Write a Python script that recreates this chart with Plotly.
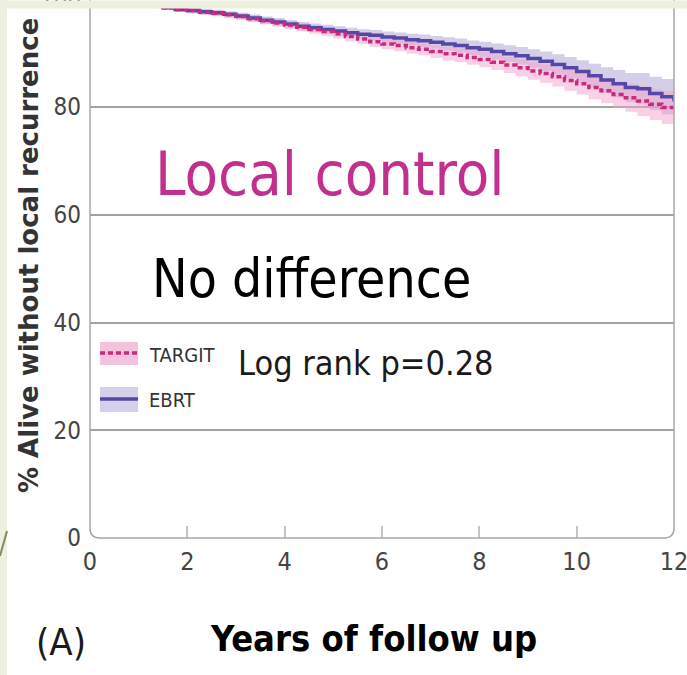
import plotly.graph_objects as go

# Kaplan-Meier estimates of local-recurrence-free survival (% alive without local recurrence)
years = [0, 0.25, 0.5, 0.75, 1, 1.25, 1.5, 1.75, 2, 2.25, 2.5, 2.75, 3, 3.25, 3.5, 3.75,
         4, 4.25, 4.5, 4.75, 5, 5.25, 5.5, 5.75, 6, 6.25, 6.5, 6.75, 7, 7.25, 7.5, 7.75,
         8, 8.25, 8.5, 8.75, 9, 9.25, 9.5, 9.75, 10, 10.25, 10.5, 10.75, 11, 11.25, 11.5, 11.75, 12]
ebrt = [100, 99.9, 99.7, 99.5, 99.2, 98.8, 98.4, 98.1, 97.9, 97.7, 97.5, 97.2, 96.9, 96.5, 96.1, 95.8,
        95.4, 95.0, 94.7, 94.4, 94.1, 93.8, 93.5, 93.3, 93.0, 92.8, 92.5, 92.3, 92.0, 91.7, 91.4, 91.0,
        90.7, 90.3, 89.9, 89.5, 89.0, 88.5, 87.9, 87.3, 86.6, 85.8, 85.0, 84.3, 83.6, 83.4, 82.5, 81.9, 81.0]
targit = [100, 99.9, 99.7, 99.4, 99.1, 98.7, 98.4, 98.1, 97.9, 97.6, 97.4, 97.1, 96.8, 96.4, 96.0, 95.6,
          95.2, 94.8, 94.4, 94.0, 93.6, 93.1, 92.6, 92.1, 91.7, 91.4, 91.0, 90.7, 90.3, 89.9, 89.6, 89.2,
          88.8, 88.3, 87.8, 87.3, 86.7, 86.2, 85.6, 84.9, 84.3, 83.6, 83.0, 82.3, 81.7, 81.1, 80.5, 79.9, 79.3]
# half-width of each confidence band
ebrt_ci = [0, 0.1, 0.2, 0.25, 0.3, 0.35, 0.4, 0.45, 0.5, 0.52, 0.55, 0.58, 0.6, 0.65, 0.7, 0.72,
           0.75, 0.78, 0.8, 0.85, 0.9, 0.92, 0.95, 0.98, 1.0, 1.05, 1.1, 1.15, 1.2, 1.25, 1.3, 1.35,
           1.4, 1.48, 1.55, 1.62, 1.7, 1.8, 1.9, 2.0, 2.1, 2.25, 2.4, 2.55, 2.7, 2.9, 3.1, 3.3, 3.5]
targit_ci = [0, 0.1, 0.2, 0.25, 0.3, 0.35, 0.4, 0.45, 0.5, 0.52, 0.55, 0.58, 0.6, 0.65, 0.7, 0.72,
             0.75, 0.78, 0.8, 0.85, 0.9, 0.92, 0.95, 0.98, 1.0, 1.05, 1.1, 1.15, 1.2, 1.25, 1.3, 1.35,
             1.4, 1.45, 1.5, 1.57, 1.65, 1.72, 1.8, 1.9, 2.0, 2.15, 2.3, 2.45, 2.6, 2.75, 2.9, 3.05, 3.2]

x_ticks = [0, 2, 4, 6, 8, 10, 12]
x_minor = [2, 4, 6, 8, 10]
y_ticks = [0, 20, 40, 60, 80]
y_grid = [20, 40, 60, 80]

W, H = 687, 675
L, R, T, B = 90, 13, 7, 137
PW, PH = W - L - R, H - T - B
PX_PER_UNIT = 431 / 80
Y_MAX = PH / PX_PER_UNIT

NARROW = "DejaVu Sans Condensed, DejaVu Sans, sans-serif"
PINK = "#c2308e"
EBRT_LINE = "#5548a5"
TARGIT_LINE = "#c82a7c"
EBRT_BAND = "rgba(172,162,212,0.52)"
TARGIT_BAND = "rgba(246,165,208,0.52)"
STRIP = "#edf0df"


def px(x):
    return (x - L) / PW


def py(y):
    return (H - B - y) / PH


def band(values, half, sign):
    return [v + sign * h for v, h in zip(values, half)]


fig = go.Figure()

fig.add_trace(go.Scatter(x=years, y=band(ebrt, ebrt_ci, -1), mode="lines",
                         line=dict(width=0, shape="hv"), showlegend=False, hoverinfo="skip"))
fig.add_trace(go.Scatter(x=years, y=band(ebrt, ebrt_ci, 1), mode="lines",
                         line=dict(width=0, shape="hv"), fill="tonexty", fillcolor=EBRT_BAND,
                         showlegend=False, hoverinfo="skip"))
fig.add_trace(go.Scatter(x=years, y=band(targit, targit_ci, -1), mode="lines",
                         line=dict(width=0, shape="hv"), showlegend=False, hoverinfo="skip"))
fig.add_trace(go.Scatter(x=years, y=band(targit, targit_ci, 1), mode="lines",
                         line=dict(width=0, shape="hv"), fill="tonexty", fillcolor=TARGIT_BAND,
                         showlegend=False, hoverinfo="skip"))
fig.add_trace(go.Scatter(x=years, y=ebrt, mode="lines", name="EBRT",
                         line=dict(color=EBRT_LINE, width=3.5, shape="hv"), showlegend=False))
fig.add_trace(go.Scatter(x=years, y=targit, mode="lines", name="TARGIT",
                         line=dict(color=TARGIT_LINE, width=3.5, shape="hv", dash="5px,3px"),
                         showlegend=False))

fig.update_xaxes(range=[0, 12], tickvals=x_ticks, ticks="", showgrid=False, zeroline=False,
                 showline=False, automargin=False, ticklabelstandoff=6, ticklabeloverflow="allow",
                 tickfont=dict(family=NARROW, size=25, color="#444"),
                 minor=dict(tickmode="array", tickvals=x_minor, ticks="inside", ticklen=12,
                            tickwidth=1.5, tickcolor="#c4c4c4", showgrid=False))
fig.update_yaxes(range=[0, Y_MAX], tickvals=y_ticks, ticks="", showgrid=False, zeroline=False,
                 showline=False, automargin=False, ticklabelstandoff=8,
                 tickfont=dict(family=NARROW, size=24, color="#444"),
                 minor=dict(tickmode="array", tickvals=y_grid, ticks="", showgrid=True,
                            gridcolor="#a2a2a2", gridwidth=1.5))

# plot frame with rounded lower corners
rx, ry = 10 / PW, 10 / PH
frame = f"M 0,1.02 L 0,{ry} Q 0,0 {rx},0 L {1 - rx},0 Q 1,0 1,{ry} L 1,1.02"
shapes = [
    dict(type="path", path=frame, xref="paper", yref="paper",
         line=dict(color="#a8a8a8", width=1.5), layer="above"),
    # slide background strip on the left
    dict(type="rect", xref="paper", yref="paper", x0=px(0), x1=px(7), y0=py(H), y1=py(0),
         fillcolor=STRIP, line=dict(width=0), layer="below"),
    dict(type="line", xref="paper", yref="paper", x0=px(0), y0=py(556), x1=px(7), y1=py(531),
         line=dict(color="#8c8760", width=2)),
    # legend swatches
    dict(type="rect", xref="paper", yref="paper", x0=px(100), x1=px(138), y0=py(365), y1=py(342),
         fillcolor="#f3c3dd", line=dict(width=0)),
    dict(type="line", xref="paper", yref="paper", x0=px(100), x1=px(138), y0=py(353), y1=py(353),
         line=dict(color=TARGIT_LINE, width=3.5, dash="5px,3px")),
    dict(type="rect", xref="paper", yref="paper", x0=px(100), x1=px(138), y0=py(412), y1=py(387),
         fillcolor="#d5cfe9", line=dict(width=0)),
    dict(type="line", xref="paper", yref="paper", x0=px(100), x1=px(138), y0=py(399), y1=py(399),
         line=dict(color=EBRT_LINE, width=3.5)),
]


def label(text, x, y, size, color="#111", family=NARROW, anchor="left", **kw):
    return dict(text=text, xref="paper", yref="paper", x=px(x), y=py(y), xanchor=anchor,
                yanchor="middle", showarrow=False, font=dict(family=family, size=size, color=color), **kw)


annotations = [
    # the 100 tick sits just above the plotting area, partly under the top strip
    label("100", 83, H - B - 100 * PX_PER_UNIT, 24, "#444", anchor="right"),
    label("Local control", 153, 173, 61, PINK),
    label("No difference", 150, 278, 53, "#000"),
    label("Log rank p=0.28", 236, 363, 34, "#1a1a1a"),
    label("TARGIT", 147, 355, 20, "#333"),
    label("EBRT", 147, 400, 20, "#333"),
    label("(A)", 61, 642, 38, "#1a1a1a", anchor="center"),
    label("<b>Years of follow up</b>", 373, 638, 36, "#000", anchor="center"),
    label("<b>% Alive without local recurrence</b>", 29, 256, 26, "#333",
          family="DejaVu Sans, sans-serif", anchor="center", textangle=-90),
    # slide background strip along the top
    dict(text=" ", xref="paper", yref="paper", x=px(0), y=py(0), xanchor="left", yanchor="top",
         width=W, height=7, borderpad=0, bgcolor=STRIP, showarrow=False),
]

fig.update_layout(width=W, height=H, margin=dict(l=L, r=R, t=T, b=B, pad=0, autoexpand=False),
                  paper_bgcolor="white", plot_bgcolor="white", showlegend=False,
                  shapes=shapes, annotations=annotations)

fig.write_html("out.html")
